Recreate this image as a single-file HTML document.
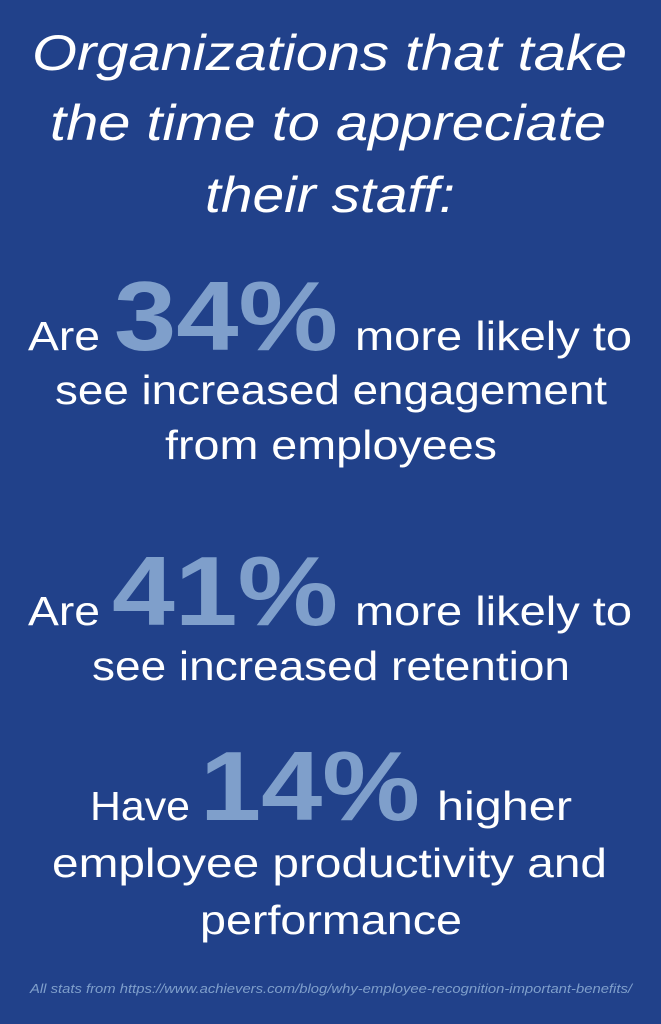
<!DOCTYPE html>
<html><head><meta charset="utf-8"><style>
html,body{margin:0;padding:0;background:#21418a;}
svg{display:block}
text{font-family:"Liberation Sans",sans-serif;fill:#fff}
.t{font-style:italic;font-size:50px}
.b{font-size:41px}
.n{font-weight:bold;font-size:98px;fill:#7f9fcb}
.f{font-style:italic;font-size:13px;fill:#7f9fcb}
</style></head><body>
<svg width="661" height="1024" viewBox="0 0 661 1024">
<rect width="661" height="1024" fill="#21418a"/>
<g>
<text class="t" x="32" y="70" textLength="595" lengthAdjust="spacingAndGlyphs">Organizations that take</text>
<text class="t" x="50" y="140" textLength="556" lengthAdjust="spacingAndGlyphs">the time to appreciate</text>
<text class="t" x="205" y="212" textLength="250" lengthAdjust="spacingAndGlyphs">their staff:</text>
</g>
<g>
<text class="b" x="28" y="350" textLength="72" lengthAdjust="spacingAndGlyphs">Are</text>
<text class="n" x="114" y="350" textLength="224" lengthAdjust="spacingAndGlyphs">34%</text>
<text class="b" x="355" y="350" textLength="277" lengthAdjust="spacingAndGlyphs">more likely to</text>
<text class="b" x="55" y="404" textLength="552" lengthAdjust="spacingAndGlyphs">see increased engagement</text>
<text class="b" x="165" y="459" textLength="332" lengthAdjust="spacingAndGlyphs">from employees</text>
</g>
<g>
<text class="b" x="28" y="625" textLength="72" lengthAdjust="spacingAndGlyphs">Are</text>
<text class="n" x="112" y="625" textLength="226" lengthAdjust="spacingAndGlyphs">41%</text>
<text class="b" x="355" y="625" textLength="277" lengthAdjust="spacingAndGlyphs">more likely to</text>
<text class="b" x="92" y="680" textLength="478" lengthAdjust="spacingAndGlyphs">see increased retention</text>
</g>
<g>
<text class="b" x="90" y="820" textLength="100" lengthAdjust="spacingAndGlyphs">Have</text>
<text class="n" x="200" y="820" textLength="220" lengthAdjust="spacingAndGlyphs">14%</text>
<text class="b" x="437" y="820" textLength="135" lengthAdjust="spacingAndGlyphs">higher</text>
<text class="b" x="52" y="877" textLength="555" lengthAdjust="spacingAndGlyphs">employee productivity and</text>
<text class="b" x="200" y="934" textLength="262" lengthAdjust="spacingAndGlyphs">performance</text>
</g>
<text class="f" x="30" y="993" textLength="602" lengthAdjust="spacingAndGlyphs">All stats from https://www.achievers.com/blog/why-employee-recognition-important-benefits/</text>
</svg>
</body></html>
